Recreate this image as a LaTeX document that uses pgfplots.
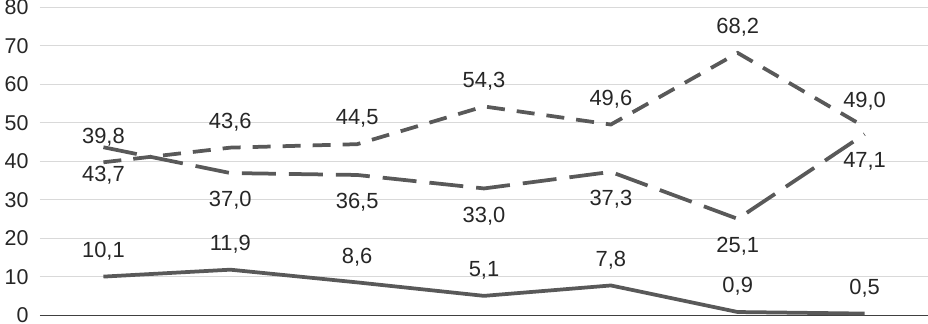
\documentclass[border=0pt]{standalone}
\usepackage{pgfplots}
\pgfplotsset{compat=1.18}
\usepackage{fontspec}
\setmainfont{Liberation Sans}
\definecolor{lc}{HTML}{595959}
\definecolor{gc}{HTML}{D9D9D9}
\definecolor{tc}{HTML}{262626}
\begin{document}
\begin{tikzpicture}
\begin{axis}[
  name=ax,
  scale only axis,
  width=888bp, height=308bp,
  xmin=-0.5, xmax=6.5, ymin=0, ymax=80,
  ytick={0,10,...,80},
  xtick=\empty,
  axis y line*=left,
  axis x line*=bottom,
  y axis line style={draw=none},
  x axis line style={draw=black!75, line width=1bp},
  ymajorgrids,
  grid style={gc, line width=1bp},
  major tick length=0pt,
  tick label style={font=\fontsize{21.5}{24}\selectfont, text=tc},
  yticklabel style={xshift=-8bp, /pgf/number format/fixed, /pgf/number format/precision=0},
  /pgf/number format/assume math mode=true,
  nodes near coords,
  every node near coord/.append style={font=\fontsize{22}{24}\selectfont, text=tc, anchor=center,
    /pgf/number format/use comma, /pgf/number format/fixed, /pgf/number format/precision=1, /pgf/number format/fixed zerofill},
  clip=false,
]
\addplot[lc, line width=3.75bp, mark=none, every node near coord/.append style={yshift=25.5bp}] coordinates {
 (0,10.1) (1,11.9) (2,8.6) (3,5.1) (4,7.8) (5,0.9) (6,0.5)};
\addplot[lc, line width=3.75bp, mark=none, dash pattern=on 18bp off 12bp, every node near coord/.append style={yshift=25.5bp}] coordinates {
 (0,39.8) (1,43.6) (2,44.5) (3,54.3) (4,49.6) (5,68.2) (6,49.0)};
\addplot[lc, line width=3.75bp, mark=none, dash pattern=on 34bp off 13bp, every node near coord/.append style={yshift=-27.5bp}] coordinates {
 (0,43.7) (1,37.0) (2,36.5) (3,33.0) (4,37.3) (5,25.1) (6,47.1)};
\end{axis}
\pgfresetboundingbox
\path ([xshift=-40bp,yshift=-8.5bp]ax.south west) rectangle ([yshift=7.5bp]ax.north east);
\end{tikzpicture}
\end{document}
